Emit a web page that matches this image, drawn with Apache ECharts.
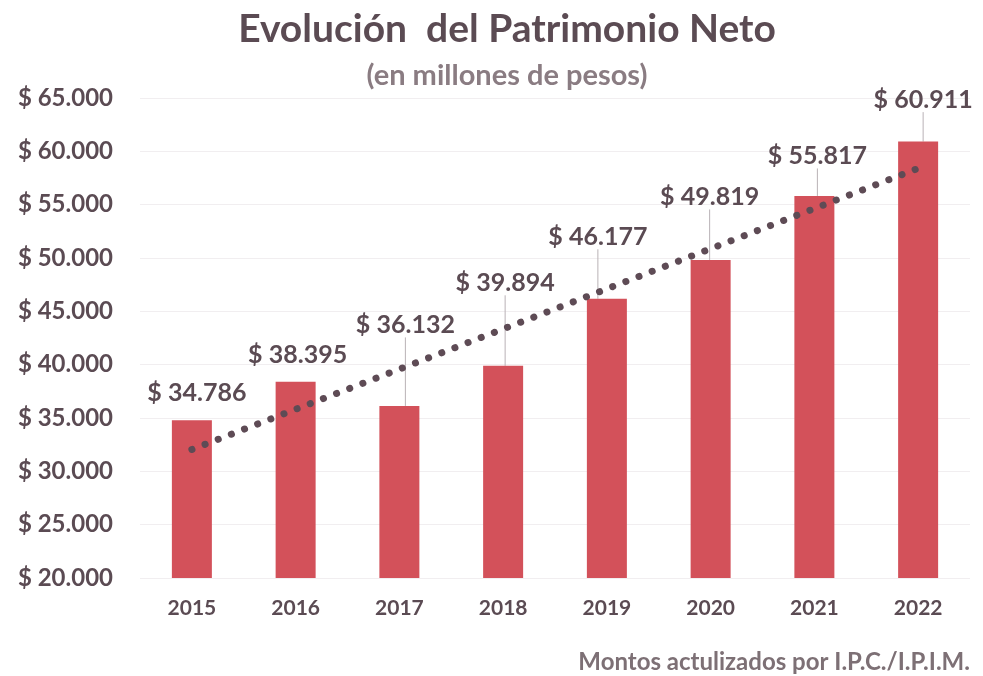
<!DOCTYPE html>
<html>
<head>
<meta charset="utf-8">
<title>Evolución del Patrimonio Neto</title>
<script src="https://cdn.jsdelivr.net/npm/echarts@6/dist/echarts.min.js"></script>
<style>
  html, body { margin: 0; padding: 0; background: #ffffff; }
  #chart { width: 983px; height: 676px; }
</style>
</head>
<body>
<div id="chart"></div>
<script>
// data
const years = ['2015', '2016', '2017', '2018', '2019', '2020', '2021', '2022']
const patrimonio = [34786, 38395, 36132, 39894, 46177, 49819, 55817, 60911]
// linear trend, only its two ends
const trend = [32050, null, null, null, null, null, null, 58400]

// where each value label sits: [dx from bar centre, label centre y relative to bar top]
const labelOffsets = [[5, -27], [2, -27], [6, -81], [2, -83], [-9, -62], [-1, -63], [3, -40], [5, -42]]
const noLeader = [0, 1]

const textColor = '#5b4b53'
const barColor = '#d3515a'
const fontFamily = 'Lato, "Open Sans", sans-serif'

function fmtPesos(v) {
  return '$ ' + String(v).replace(/\B(?=(\d{3})+(?!\d))/g, '.')
}

const chart = echarts.init(document.getElementById('chart'))

chart.setOption({
  backgroundColor: '#ffffff',
  animation: false,
  title: [
    {
      text: 'Evolución  del Patrimonio Neto',
      left: 502, top: 5, textAlign: 'center',
      textStyle: { color: textColor, fontFamily, fontWeight: 'bold', fontSize: 39 },
    },
    {
      text: '(en millones de pesos)',
      left: 502, top: 56, textAlign: 'center',
      textStyle: { color: '#8a7c82', fontFamily, fontWeight: 'bold', fontSize: 29 },
    },
    {
      text: 'Montos actulizados por I.P.C./I.P.I.M.',
      right: 8, top: 645,
      textStyle: { color: '#7d7075', fontFamily, fontWeight: 'bold', fontSize: 24 },
    },
  ],
  grid: { left: 140, right: 13, top: 98, bottom: 98 },
  xAxis: {
    type: 'category',
    data: years,
    axisLine: { show: false },
    axisTick: { show: false },
    axisLabel: { color: textColor, fontFamily, fontWeight: 'bold', fontSize: 21, margin: 20 },
  },
  yAxis: {
    type: 'value',
    min: 20000,
    max: 65000,
    interval: 5000,
    axisLine: { show: false },
    axisTick: { show: false },
    splitLine: { lineStyle: { color: '#f1eef0', width: 1 } },
    axisLabel: {
      color: textColor, fontFamily, fontWeight: 'bold', fontSize: 24, margin: 27,
      formatter: v => fmtPesos(v),
    },
  },
  series: [
    {
      type: 'bar',
      barWidth: 40,
      z: 2,
      itemStyle: { color: barColor },
      data: patrimonio.map((v, i) => ({
        value: v,
        labelLine: { show: !noLeader.includes(i) },
      })),
      label: {
        show: true,
        position: 'top',
        color: textColor,
        fontFamily,
        fontWeight: 'bold',
        fontSize: 25,
        formatter: p => fmtPesos(p.value),
      },
      labelLine: {
        show: true,
        lineStyle: { color: '#b9b2b6', width: 1 },
      },
      labelLayout: params => {
        const off = labelOffsets[params.dataIndex]
        return {
          x: params.rect.x + params.rect.width / 2 + off[0],
          y: params.rect.y + off[1],
          align: 'center',
          verticalAlign: 'middle',
        }
      },
    },
    {
      type: 'line',
      data: trend,
      connectNulls: true,
      symbol: 'none',
      z: 3,
      silent: true,
      lineStyle: { color: '#5e4b55', width: 7, type: [0.1, 14], cap: 'round' },
    },
  ],
})
</script>
</body>
</html>
